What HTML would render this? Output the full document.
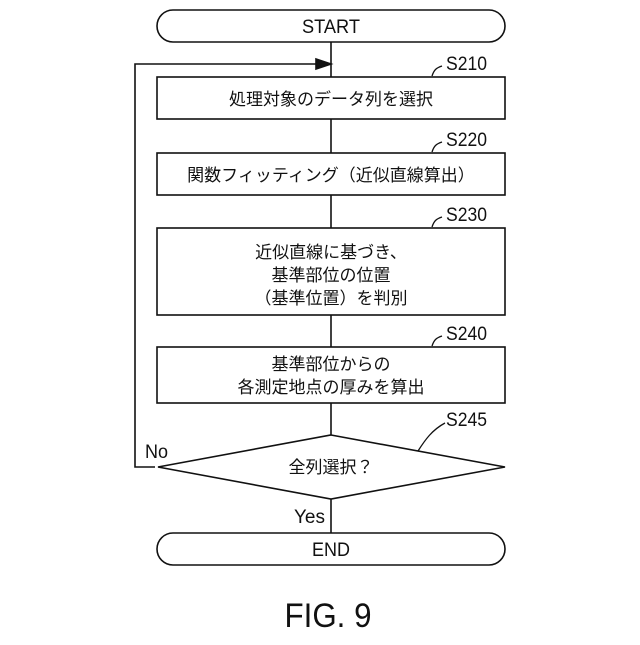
<!DOCTYPE html>
<html><head><style>body{margin:0;background:#fff}</style></head><body>
<svg width="640" height="640" viewBox="0 0 640 640" xmlns="http://www.w3.org/2000/svg" font-family="Liberation Sans, Noto Sans CJK JP, sans-serif" fill="none" stroke="#111" stroke-width="1.6">
<rect x="157" y="10" width="348" height="32" rx="16"/>
<text x="331" y="33" font-size="19" fill="#111" stroke="none" text-anchor="middle" textLength="58" lengthAdjust="spacingAndGlyphs">START</text>
<line x1="331" y1="42" x2="331" y2="77"/>
<polyline points="155,467 135,467 135,64 318,64"/>
<polygon points="331,64 316,59 316,69" fill="#111"/>
<rect x="157" y="77" width="348" height="42"/>
<text x="331" y="105" font-size="17" fill="#111" stroke="none" text-anchor="middle">処理対象のデータ列を選択</text>
<line x1="331" y1="119" x2="331" y2="153"/>
<rect x="157" y="153" width="348" height="42"/>
<text x="331" y="181" font-size="17" fill="#111" stroke="none" text-anchor="middle">関数フィッティング（近似直線算出）</text>
<line x1="331" y1="195" x2="331" y2="228"/>
<rect x="157" y="228" width="348" height="87"/>
<text font-size="17" fill="#111" stroke="none" text-anchor="middle"><tspan x="331" y="258">近似直線に基づき、</tspan><tspan x="331" y="281">基準部位の位置</tspan><tspan x="331" y="304">（基準位置）を判別</tspan></text>
<line x1="331" y1="315" x2="331" y2="347"/>
<rect x="157" y="347" width="348" height="56"/>
<text font-size="17" fill="#111" stroke="none" text-anchor="middle"><tspan x="331" y="370">基準部位からの</tspan><tspan x="331" y="393">各測定地点の厚みを算出</tspan></text>
<line x1="331" y1="403" x2="331" y2="435"/>
<polygon points="331,435 505,467 331,499 158,467"/>
<text x="331" y="473" font-size="17" fill="#111" stroke="none" text-anchor="middle">全列選択？</text>
<line x1="331" y1="499" x2="331" y2="533"/>
<rect x="157" y="533" width="348" height="32" rx="16"/>
<text x="331" y="556" font-size="19" fill="#111" stroke="none" text-anchor="middle" textLength="38" lengthAdjust="spacingAndGlyphs">END</text>
<g stroke-width="1.3">
<path d="M432,76 C434,70 436,68 442,66"/>
<path d="M432,152 C434,146 436,144 442,142"/>
<path d="M432,227 C434,221 436,219 442,217"/>
<path d="M432,346 C434,340 436,338 442,336"/>
<path d="M418,451 C425,440 432,430 445,423"/>
</g>
<g font-size="19" fill="#111" stroke="none">
<text x="446" y="70" textLength="41" lengthAdjust="spacingAndGlyphs">S210</text>
<text x="446" y="146" textLength="41" lengthAdjust="spacingAndGlyphs">S220</text>
<text x="446" y="221" textLength="41" lengthAdjust="spacingAndGlyphs">S230</text>
<text x="446" y="340" textLength="41" lengthAdjust="spacingAndGlyphs">S240</text>
<text x="446" y="426" textLength="41" lengthAdjust="spacingAndGlyphs">S245</text>
<text x="145" y="458" textLength="23" lengthAdjust="spacingAndGlyphs">No</text>
<text x="294" y="523" textLength="31" lengthAdjust="spacingAndGlyphs">Yes</text>
</g>
<text x="328" y="627" font-size="34" fill="#111" stroke="none" text-anchor="middle" textLength="87" lengthAdjust="spacingAndGlyphs">FIG. 9</text>
</svg>
</body></html>
